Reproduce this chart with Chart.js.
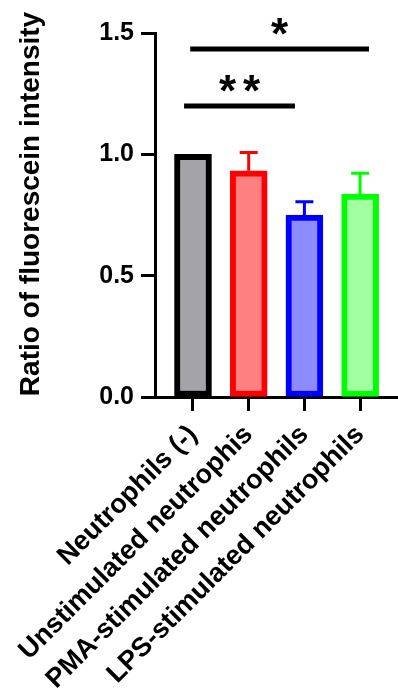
<!DOCTYPE html>
<html>
<head>
<meta charset="utf-8">
<script src="https://cdn.jsdelivr.net/npm/chart.js@4.4.0/dist/chart.umd.min.js"></script>
<style>
  body { margin: 0; background: #fff; }
  #wrap { width: 398px; height: 696px; }
</style>
</head>
<body>
<div id="wrap"><canvas id="chart" width="398" height="696"></canvas></div>
<script>
// groups on the x axis
const groups = ['Neutrophils (-)', 'Unstimulated neutrophis', 'PMA-stimulated neutrophils', 'LPS-stimulated neutrophils'];
// mean ratio and upper error (SEM)
const means = [1.0, 0.932, 0.750, 0.836];
const errors = [0, 0.076, 0.055, 0.086];
const yTicks = [0, 0.5, 1.0, 1.5];

// significance brackets
const sigFrom = [0.95, 0.84];
const sigTo = [4.16, 2.83];
const sigLevel = [1.434, 1.199];
const sigMarks = ['*', '**'];

const fillColors = ['#a3a3a8', '#ff8080', '#8c8cff', '#a2ffa2'];
const lineColors = ['#000000', '#ff0000', '#0000ff', '#00ff00'];

const FONT = 'Liberation Sans, Arial, Helvetica, sans-serif';

// error bars, upper half only, same colour as the bar outline
const errorBars = {
    id: 'errorBars',
    afterDatasetsDraw(chart) {
        const ctx = chart.ctx;
        const xs = chart.scales.x, ys = chart.scales.y;
        ctx.save();
        ctx.lineWidth = 3;
        for (let i = 0; i < means.length; i++) {
            if (!errors[i]) continue;
            const x = xs.getPixelForValue(i + 1);
            const y0 = ys.getPixelForValue(means[i]);
            const y1 = ys.getPixelForValue(means[i] + errors[i]);
            ctx.strokeStyle = lineColors[i];
            ctx.beginPath();
            ctx.moveTo(x, y0);
            ctx.lineTo(x, y1);
            ctx.moveTo(x - 9, y1);
            ctx.lineTo(x + 9, y1);
            ctx.stroke();
        }
        ctx.restore();
    }
};

// significance lines with stars
const sigLines = {
    id: 'sigLines',
    afterDraw(chart) {
        const ctx = chart.ctx;
        const xs = chart.scales.x, ys = chart.scales.y;
        ctx.save();
        ctx.strokeStyle = '#000';
        ctx.fillStyle = '#000';
        ctx.lineWidth = 5;
        ctx.font = 'bold 44px ' + FONT;
        ctx.textAlign = 'center';
        ctx.textBaseline = 'alphabetic';
        for (let i = 0; i < sigMarks.length; i++) {
            const xa = xs.getPixelForValue(sigFrom[i]);
            const xb = xs.getPixelForValue(sigTo[i]);
            const y = ys.getPixelForValue(sigLevel[i]);
            ctx.beginPath();
            ctx.moveTo(xa, y);
            ctx.lineTo(xb, y);
            ctx.stroke();
            const mid = (xa + xb) / 2;
            const n = sigMarks[i].length;
            for (let k = 0; k < n; k++) {
                const cx = mid + (k - (n - 1) / 2) * 24;
                ctx.fillText('*', cx, y - 25 + 0.573 * 44);
            }
        }
        ctx.restore();
    }
};

// y title, drawn by hand so it can sit where the original has it
const yTitle = {
    id: 'yTitle',
    afterDraw(chart) {
        const ctx = chart.ctx;
        ctx.save();
        ctx.translate(31, 204);
        ctx.rotate(-Math.PI / 2);
        ctx.font = 'bold 28px ' + FONT;
        ctx.fillStyle = '#000';
        ctx.textAlign = 'center';
        ctx.textBaseline = 'middle';
        ctx.fillText('Ratio of fluorescein intensity', 0, 0);
        ctx.restore();
    }
};

new Chart(document.getElementById('chart'), {
    type: 'bar',
    data: {
        datasets: [{
            data: means.map((v, i) => ({ x: i + 1, y: v })),
            backgroundColor: fillColors,
            borderColor: lineColors,
            borderWidth: 6,
            borderSkipped: false,
            barThickness: 37
        }]
    },
    options: {
        responsive: false,
        animation: false,
        layout: { padding: { top: 33, right: 0, bottom: 0, left: 0 } },
        plugins: { legend: { display: false }, tooltip: { enabled: false } },
        scales: {
            x: {
                type: 'linear',
                offset: false,
                min: 0.318,
                max: 4.68,
                afterBuildTicks: s => { s.ticks = groups.map((g, i) => ({ value: i + 1 })); },
                afterFit: s => { s.height = 299; s.paddingLeft = 0; s.paddingRight = 0; },
                border: { display: true, color: '#000', width: 3 },
                grid: { offset: false, drawOnChartArea: false, drawTicks: true, tickLength: 14, tickWidth: 3, tickColor: '#000' },
                ticks: {
                    autoSkip: false,
                    minRotation: 45,
                    maxRotation: 45,
                    padding: 8,
                    color: '#000',
                    font: { family: FONT, size: 27, weight: 'bold' },
                    callback: v => groups[Math.round(v) - 1]
                }
            },
            y: {
                min: 0,
                max: 1.5,
                afterBuildTicks: s => { s.ticks = yTicks.map(v => ({ value: v })); },
                afterFit: s => { s.width = 155; s.paddingTop = 0; s.paddingBottom = 0; },
                border: { display: true, color: '#000', width: 3 },
                grid: { drawOnChartArea: false, drawTicks: true, tickLength: 14, tickWidth: 3, tickColor: '#000' },
                ticks: {
                    padding: 7,
                    color: '#000',
                    font: { family: FONT, size: 25, weight: 'bold' },
                    callback: v => v.toFixed(1)
                }
            }
        }
    },
    plugins: [errorBars, sigLines, yTitle]
});
</script>
</body>
</html>
